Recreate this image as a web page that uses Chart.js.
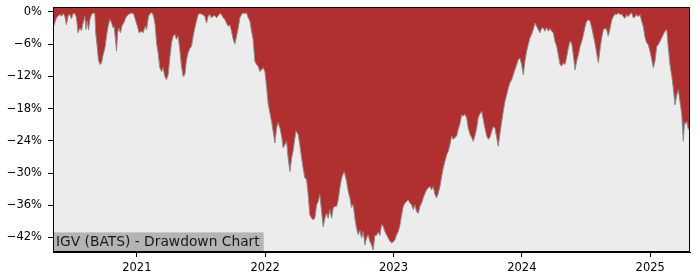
<!DOCTYPE html>
<html>
<head>
<meta charset="utf-8">
<script src="https://cdn.jsdelivr.net/npm/chart.js@4/dist/chart.umd.min.js"></script>
<style>
html,body{margin:0;padding:0;background:#fff;}
canvas{display:block;}
</style>
</head>
<body>
<canvas id="c" width="700" height="280"></canvas>
<script>
const chartTitle = "IGV (BATS) - Drawdown Chart";
const xTicks = [2021, 2022, 2023, 2024, 2025];
const yTicks = [0, -6, -12, -18, -24, -30, -36, -42];
const xRange = [2020.347, 2025.310];
const yRange = [-44.7, 0.9];

const years = [
2020.348,2020.355,2020.361,2020.374,2020.400,2020.413,2020.426,2020.439,2020.452,2020.465,
2020.478,2020.491,2020.504,2020.517,2020.530,2020.542,2020.556,2020.569,2020.581,2020.595,
2020.603,2020.613,2020.624,2020.634,2020.647,2020.659,2020.673,2020.680,2020.691,2020.701,
2020.712,2020.725,2020.737,2020.751,2020.764,2020.776,2020.790,2020.803,2020.815,2020.823,
2020.831,2020.842,2020.850,2020.860,2020.873,2020.883,2020.899,2020.914,2020.932,2020.951,
2020.966,2020.977,2020.992,2021.005,2021.018,2021.037,2021.049,2021.065,2021.076,2021.091,
2021.107,2021.122,2021.133,2021.143,2021.154,2021.166,2021.179,2021.193,2021.205,2021.218,
2021.231,2021.244,2021.257,2021.270,2021.283,2021.296,2021.309,2021.322,2021.335,2021.348,
2021.361,2021.374,2021.387,2021.400,2021.413,2021.426,2021.439,2021.452,2021.465,2021.478,
2021.491,2021.512,2021.530,2021.543,2021.556,2021.569,2021.582,2021.595,2021.608,2021.621,
2021.634,2021.647,2021.660,2021.673,2021.686,2021.699,2021.712,2021.725,2021.738,2021.751,
2021.764,2021.777,2021.790,2021.803,2021.816,2021.829,2021.842,2021.855,2021.868,2021.881,
2021.894,2021.906,2021.920,2021.933,2021.945,2021.959,2021.972,2021.984,2021.998,2022.011,
2022.023,2022.037,2022.050,2022.062,2022.076,2022.089,2022.101,2022.115,2022.128,2022.140,
2022.154,2022.167,2022.179,2022.193,2022.206,2022.218,2022.239,2022.257,2022.270,2022.284,
2022.296,2022.309,2022.323,2022.335,2022.348,2022.362,2022.374,2022.387,2022.401,2022.413,
2022.426,2022.440,2022.452,2022.465,2022.479,2022.491,2022.504,2022.518,2022.530,2022.543,
2022.557,2022.569,2022.582,2022.596,2022.616,2022.634,2022.647,2022.660,2022.673,2022.686,
2022.699,2022.712,2022.725,2022.738,2022.751,2022.764,2022.777,2022.790,2022.803,2022.816,
2022.829,2022.842,2022.855,2022.868,2022.881,2022.894,2022.907,2022.920,2022.933,2022.946,
2022.959,2022.972,2022.985,2022.998,2023.011,2023.024,2023.037,2023.050,2023.063,2023.076,
2023.089,2023.102,2023.115,2023.128,2023.141,2023.154,2023.167,2023.180,2023.193,2023.206,
2023.219,2023.232,2023.245,2023.258,2023.271,2023.284,2023.297,2023.309,2023.323,2023.336,
2023.348,2023.362,2023.375,2023.387,2023.401,2023.414,2023.426,2023.440,2023.453,2023.465,
2023.479,2023.492,2023.504,2023.518,2023.531,2023.543,2023.557,2023.570,2023.582,2023.596,
2023.609,2023.621,2023.634,2023.648,2023.660,2023.673,2023.687,2023.699,2023.712,2023.726,
2023.738,2023.751,2023.765,2023.777,2023.790,2023.804,2023.816,2023.829,2023.843,2023.855,
2023.868,2023.882,2023.894,2023.907,2023.921,2023.933,2023.946,2023.960,2023.972,2023.985,
2023.998,2024.011,2024.024,2024.037,2024.050,2024.063,2024.076,2024.089,2024.102,2024.115,
2024.128,2024.141,2024.154,2024.167,2024.180,2024.193,2024.206,2024.219,2024.232,2024.245,
2024.258,2024.271,2024.284,2024.297,2024.310,2024.323,2024.336,2024.349,2024.362,2024.375,
2024.388,2024.401,2024.414,2024.427,2024.440,2024.453,2024.466,2024.479,2024.492,2024.505,
2024.518,2024.531,2024.544,2024.557,2024.570,2024.583,2024.596,2024.609,2024.622,2024.635,
2024.648,2024.661,2024.673,2024.687,2024.700,2024.712,2024.726,2024.739,2024.751,2024.765,
2024.778,2024.790,2024.804,2024.817,2024.829,2024.843,2024.856,2024.868,2024.882,2024.895,
2024.907,2024.921,2024.934,2024.946,2024.960,2024.973,2024.985,2024.998,2025.012,2025.024,
2025.037,2025.051,2025.063,2025.076,2025.090,2025.102,2025.115,2025.129,2025.141,2025.154,
2025.168,2025.180,2025.193,2025.207,2025.219,2025.232,2025.246,2025.258,2025.266,2025.277,
2025.285,2025.297,2025.306
];

const drawdown = [
-1.0,-2.5,-2.5,-1.1,-0.5,-0.8,-0.3,-0.8,-2.4,-0.7,
-0.5,-1.3,-0.3,-0.3,-1.1,-3.9,-3.0,-3.5,-2.1,-0.8,
-3.3,-1.7,-3.4,-1.5,-0.5,-0.2,-0.3,-3.9,-6.4,-8.9,
-9.8,-9.5,-8.0,-6.8,-4.5,-2.7,-1.4,-2.0,-3.0,-2.7,
-4.5,-7.3,-3.9,-3.0,-3.9,-2.7,-2.0,-1.1,-0.5,-0.3,
-0.2,-0.5,-1.7,-2.7,-3.9,-3.6,-3.9,-2.7,-3.3,-0.8,
-0.2,-0.2,-1.1,-2.4,-5.8,-7.6,-10.4,-11.1,-10.4,-12.0,
-12.6,-11.7,-8.6,-5.8,-4.5,-4.2,-5.1,-4.5,-7.0,-10.1,
-12.0,-11.7,-8.9,-7.6,-6.8,-6.4,-4.5,-3.0,-1.7,-0.5,
-0.3,-0.5,-0.8,-2.1,-0.8,-0.5,-1.1,-0.8,-0.7,-1.1,
-0.7,-0.3,-0.5,-1.1,-1.4,-2.1,-2.7,-2.4,-3.6,-5.1,
-6.0,-4.5,-3.0,-1.1,-0.5,-0.2,-0.3,-0.2,-1.1,-1.7,
-3.6,-5.1,-9.2,-9.8,-10.1,-11.1,-10.8,-10.4,-11.1,-13.9,
-17.0,-18.8,-20.4,-22.2,-24.4,-21.6,-20.6,-21.6,-23.1,-25.3,
-24.7,-24.1,-27.2,-29.7,-27.2,-25.8,-22.2,-22.8,-24.7,-27.2,
-29.1,-30.9,-31.2,-34.0,-37.8,-38.4,-38.7,-38.4,-35.9,-35.3,
-34.0,-37.2,-40.0,-38.4,-37.5,-38.4,-36.8,-38.4,-36.5,-36.2,
-36.2,-35.0,-32.8,-30.9,-29.7,-31.5,-33.4,-34.6,-36.4,-35.8,
-38.4,-40.3,-41.5,-40.6,-42.1,-40.9,-43.4,-42.1,-41.5,-42.7,
-43.4,-44.3,-41.6,-41.6,-41.0,-41.6,-39.6,-39.9,-40.9,-41.5,
-42.1,-42.7,-43.0,-42.8,-42.4,-41.5,-40.9,-39.7,-37.8,-36.2,
-35.6,-35.3,-35.0,-35.6,-35.9,-36.8,-35.9,-37.2,-37.5,-36.2,
-35.6,-34.6,-33.8,-33.1,-32.8,-32.5,-33.1,-32.5,-34.0,-34.6,
-33.8,-32.5,-30.6,-29.1,-27.8,-26.6,-26.0,-24.7,-23.1,-23.7,
-23.4,-23.1,-21.9,-20.8,-19.1,-19.4,-19.1,-19.7,-21.6,-22.8,
-23.4,-24.1,-23.1,-21.6,-19.7,-19.0,-18.5,-20.0,-21.6,-23.1,
-23.7,-23.4,-22.2,-21.4,-21.6,-23.4,-25.0,-22.7,-20.4,-18.5,
-16.7,-15.4,-14.2,-13.2,-12.6,-11.7,-10.8,-9.8,-8.9,-8.6,
-9.8,-11.7,-9.2,-7.3,-6.1,-4.8,-4.2,-3.3,-2.1,-2.7,
-3.3,-3.9,-3.0,-3.0,-3.6,-2.9,-3.6,-3.1,-3.6,-3.9,
-5.5,-6.4,-8.0,-9.8,-10.1,-9.5,-9.8,-8.4,-6.7,-5.5,
-5.8,-8.0,-10.8,-9.2,-8.0,-6.5,-5.5,-4.3,-2.8,-1.7,
-1.5,-1.7,-2.9,-4.4,-5.9,-7.7,-9.5,-7.0,-4.8,-3.3,
-3.1,-3.3,-4.5,-3.1,-1.5,-0.9,-0.4,-0.5,-0.2,-0.5,
-0.4,-0.9,-1.2,-0.5,-0.9,-0.4,-0.2,-1.1,-0.9,-0.5,
-0.9,-0.5,-1.8,-2.7,-4.8,-5.8,-6.1,-7.3,-8.9,-10.4,
-9.2,-6.4,-6.1,-5.5,-4.8,-4.2,-3.6,-3.3,-6.7,-9.8,
-12.0,-14.2,-17.3,-15.4,-14.5,-16.7,-19.1,-24.1,-20.6,-20.9,
-20.3,-21.9,-21.6
];

const RED = '#b03030';
const AREA_GRAY = '#ececec';
const tickFont = { family: '"DejaVu Sans", sans-serif', size: 11.5 };

const points = years.map((x, i) => ({ x: x, y: drawdown[i] }));

const bgPlugin = {
  id: 'bg',
  beforeDatasetsDraw(chart) {
    const a = chart.chartArea, ctx = chart.ctx;
    ctx.save();
    ctx.fillStyle = RED;
    ctx.fillRect(a.left, a.top, a.right - a.left, a.bottom - a.top);
    ctx.restore();
  }
};

const framePlugin = {
  id: 'frame',
  afterDraw(chart) {
    const a = chart.chartArea, ctx = chart.ctx;
    ctx.save();
    ctx.font = '13.8px "DejaVu Sans", sans-serif';
    const w = ctx.measureText(chartTitle).width;
    const boxH = 19.6;
    ctx.fillStyle = '#b4b4b4';
    ctx.fillRect(a.left, a.bottom - boxH, w + 7, boxH);
    ctx.fillStyle = '#1a1a1a';
    ctx.textBaseline = 'alphabetic';
    ctx.textAlign = 'left';
    ctx.fillText(chartTitle, a.left + 3, a.bottom - 5.6);
    ctx.strokeStyle = '#000';
    ctx.lineWidth = 1;
    ctx.strokeRect(Math.round(a.left) + 0.5, Math.round(a.top) + 0.5,
                   Math.round(a.right - a.left) - 1, Math.round(a.bottom - a.top) - 1);
    ctx.restore();
  }
};

new Chart(document.getElementById('c'), {
  type: 'line',
  data: {
    datasets: [{
      data: points,
      borderColor: '#8a8a8a',
      borderWidth: 1,
      backgroundColor: AREA_GRAY,
      fill: 'start',
      pointRadius: 0,
      tension: 0
    }]
  },
  options: {
    responsive: false,
    animation: false,
    devicePixelRatio: 1,
    layout: { padding: { top: 7, right: 10, left: 0, bottom: 0 } },
    plugins: { legend: { display: false }, tooltip: { enabled: false } },
    scales: {
      x: {
        type: 'linear',
        min: xRange[0],
        max: xRange[1],
        afterBuildTicks: s => { s.ticks = xTicks.map(v => ({ value: v })); },
        afterFit: s => { s.height = 28; s.paddingLeft = 0; s.paddingRight = 0; },
        ticks: {
          autoSkip: false, maxRotation: 0, minRotation: 0,
          color: '#000', font: tickFont, padding: 4,
          callback: v => String(v)
        },
        grid: { drawOnChartArea: false, drawTicks: true, tickLength: 5, color: '#000', tickColor: '#000' },
        border: { display: true, color: '#000' }
      },
      y: {
        type: 'linear',
        min: yRange[0],
        max: yRange[1],
        afterBuildTicks: s => { s.ticks = yTicks.map(v => ({ value: v })); },
        afterFit: s => { s.width = 53; s.paddingTop = 0; s.paddingBottom = 0; },
        ticks: {
          autoSkip: false,
          color: '#000', font: tickFont, padding: 6,
          callback: v => (v < 0 ? '\u2212' + Math.abs(v) : String(v)) + '%'
        },
        grid: { drawOnChartArea: false, drawTicks: true, tickLength: 5, color: '#000', tickColor: '#000' },
        border: { display: true, color: '#000' }
      }
    }
  },
  plugins: [bgPlugin, framePlugin]
});
</script>
</body>
</html>
